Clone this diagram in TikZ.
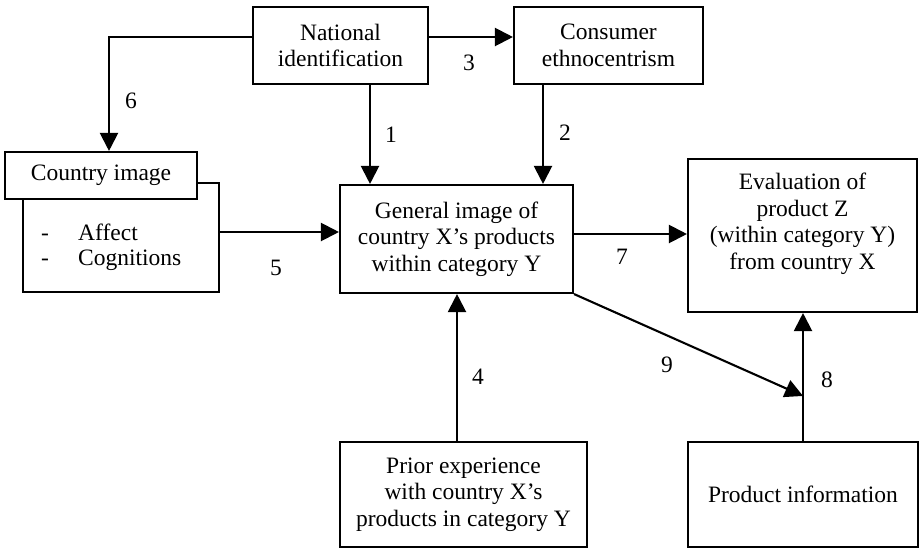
\documentclass[tikz,border=0pt]{standalone}
\usepackage{fontspec}
\setmainfont{Liberation Serif}
\usetikzlibrary{arrows.meta}

\tikzset{
  box/.style={draw, line width=2.1pt, fill=white, inner sep=0pt, align=center,
              font=\fontsize{23.5}{26.5}\selectfont},
  txt/.style={inner sep=0pt, align=center, font=\fontsize{23.5}{26.5}\selectfont},
  num/.style={inner sep=0pt, font=\fontsize{23.5}{26.5}\selectfont},
  arr/.style={line width=2.1pt, -{Triangle[length=18pt,width=18pt]}},
  ln/.style={line width=2.1pt}
}

\begin{document}
\begin{tikzpicture}[x=1pt, y=-1pt]
\useasboundingbox (0,0) rectangle (920,549);

% top row
\node[box, minimum width=175pt, minimum height=77pt] (ni) at (340.5,45.5)
  {National\\identification};
\node[box, minimum width=189pt, minimum height=77pt] (ce) at (608.5,45.5)
  {Consumer\\ethnocentrism};

% country image: header box overlapping the list box
\node[box, minimum width=196pt, minimum height=109pt] (cio) at (121,237.5) {};
\node[box, minimum width=192pt, minimum height=47pt] (ci) at (101,175.5) {Country image};
\node[txt, anchor=base west] (it1) at (41,240) {\makebox[37pt][l]{-}Affect};
\node[txt, anchor=base west] (it2) at (41,265) {\makebox[37pt][l]{-}Cognitions};

% middle
\node[box, minimum width=233pt, minimum height=108pt] (gi) at (456.5,239)
  {General image of\\country X’s products\\within category Y};
\node[box, minimum width=229pt, minimum height=153pt] (ev) at (802.5,235.5) {};
\node[txt] (evt) at (802.5,224)
  {Evaluation of\\product Z\\(within category Y)\\from country X};

% bottom row
\node[box, minimum width=247pt, minimum height=105pt] (pr) at (463.5,494.5)
  {Prior experience\\with country X’s\\products in category Y};
\node[box, minimum width=230pt, minimum height=105pt] (pi) at (803,494.5)
  {Product information};

% connectors
\draw[arr] ([xshift=29.5pt]ni.south) -- ([xshift=29.5pt]ni.south |- gi.north);
\draw[arr] ([xshift=-65.5pt]ce.south) -- ([xshift=-65.5pt]ce.south |- gi.north);
\draw[arr] ([yshift=8.5pt]ni.east) -- ([yshift=8.5pt]ce.west);
\draw[arr] ([yshift=8.5pt]ni.west) -| ([xshift=8pt]ci.north);
\draw[arr] ([yshift=5.5pt]cio.east) -- ([yshift=5.5pt]cio.east -| gi.west);
\draw[arr] ([yshift=5pt]gi.east) -- ([yshift=5pt]gi.east -| ev.west);
\draw[arr] ([xshift=-6.5pt]pr.north) -- ([xshift=-6.5pt]pr.north |- gi.south);
\draw[arr] (pi.north) -- (pi.north |- ev.south);
\coordinate (m9) at ([yshift=45pt]pi.north);
\draw[arr] (gi.south east) -- (m9);

% path numbers
\node[num] (n1) at (391,135) {1};
\node[num] (n2) at (565,133) {2};
\node[num] (n3) at (469,63) {3};
\node[num] (n4) at (478,377) {4};
\node[num] (n5) at (276,268) {5};
\node[num] (n6) at (131,101) {6};
\node[num] (n7) at (622,257) {7};
\node[num] (n8) at (827,380) {8};
\node[num] (n9) at (667,365) {9};
\end{tikzpicture}
\end{document}
